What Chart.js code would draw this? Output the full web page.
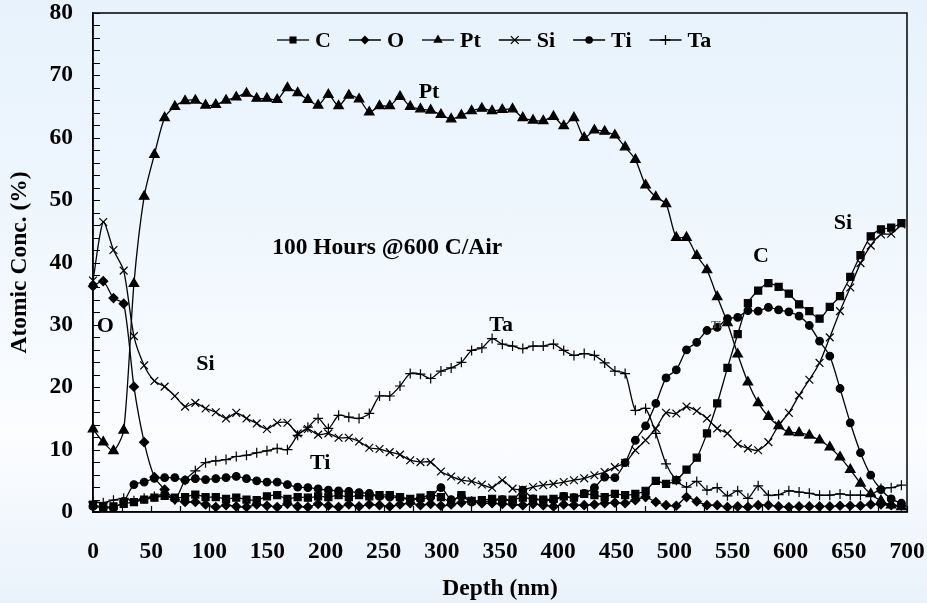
<!DOCTYPE html>
<html>
<head>
<meta charset="utf-8">
<title>Depth profile</title>
<script src="https://cdn.jsdelivr.net/npm/chart.js@4.4.1/dist/chart.umd.min.js"></script>
<style>
  html, body { margin: 0; padding: 0; }
  body {
    width: 927px; height: 603px; overflow: hidden;
    background: linear-gradient(to bottom, #e7f2fc 0%, #f1f8fe 45%, #fcfdff 72%, #e9f2fb 100%);
  }
  #wrap { position: relative; width: 927px; height: 603px; }
</style>
</head>
<body>
<div id="wrap"><canvas id="chart"></canvas></div>
<script>
// Depth (nm) of each measurement
const depth = [0, 8.8, 17.6, 26.4, 35.2, 44, 52.8, 61.6, 70.4, 79.2,
  88, 96.8, 105.6, 114.4, 123.2, 132, 140.8, 149.6, 158.4, 167.2,
  176, 184.8, 193.6, 202.4, 211.2, 220, 228.8, 237.6, 246.4, 255.2,
  264, 272.8, 281.6, 290.4, 299.2, 308, 316.8, 325.6, 334.4, 343.2,
  352, 360.8, 369.6, 378.4, 387.2, 396, 404.8, 413.6, 422.4, 431.2,
  440, 448.8, 457.6, 466.4, 475.2, 484, 492.8, 501.6, 510.4, 519.2,
  528, 536.8, 545.6, 554.4, 563.2, 572, 580.8, 589.6, 598.4, 607.2,
  616, 624.8, 633.6, 642.4, 651.2, 660, 668.8, 677.6, 686.4, 695.2];

// Atomic concentration (%) per element
const carbon = [1.2, 0.8, 0.9, 1.3, 1.6, 2.0, 2.3, 2.6, 2.3, 2.4,
  2.8, 2.4, 2.4, 2.1, 2.3, 2.0, 1.9, 2.5, 2.7, 2.1,
  2.4, 2.3, 2.5, 2.4, 2.7, 2.4, 2.7, 2.5, 2.7, 2.7,
  2.4, 2.1, 2.3, 2.7, 2.4, 1.6, 2.7, 1.8, 1.9, 2.1,
  2.0, 2.0, 2.3, 2.1, 2.0, 2.1, 2.5, 2.3, 2.9, 2.7,
  2.4, 2.9, 2.7, 2.9, 3.4, 5.0, 4.5, 5.1, 6.8, 8.7,
  12.6, 17.4, 23.1, 28.5, 33.5, 35.5, 36.7, 36.1, 35.0, 33.3,
  32.2, 31.0, 32.9, 34.6, 37.7, 41.2, 44.2, 45.3, 45.6, 46.3];

const oxygen = [36.2, 37.0, 34.3, 33.4, 20.1, 11.2, 5.6, 3.6, 2.0, 1.6,
  1.6, 1.2, 0.8, 1.1, 0.9, 0.8, 1.2, 1.0, 0.8, 1.3,
  0.9, 0.8, 1.3, 1.0, 0.8, 1.2, 0.9, 1.2, 1.1, 0.9,
  1.2, 1.4, 1.1, 1.3, 1.0, 1.2, 1.5, 1.7, 1.4, 1.4,
  1.3, 1.2, 1.1, 1.3, 1.1, 0.9, 1.2, 1.1, 1.1, 1.2,
  1.4, 1.5, 1.4, 1.9, 2.4, 1.6, 1.1, 1.0, 2.4, 1.7,
  1.1, 1.1, 0.8, 0.9, 0.8, 1.1, 1.1, 0.9, 0.8, 0.9,
  0.9, 0.9, 0.9, 1.0, 1.0, 1.0, 1.2, 1.2, 1.1, 1.0];

const platinum = [13.3, 11.2, 9.8, 13.1, 36.6, 50.6, 57.3, 63.2, 65.0, 65.9,
  66.0, 65.2, 65.3, 66.0, 66.5, 67.1, 66.3, 66.3, 66.1, 68.0,
  67.2, 66.1, 65.2, 66.9, 65.1, 66.8, 66.2, 64.1, 65.1, 65.1,
  66.6, 65.0, 64.6, 64.4, 63.7, 63.0, 63.6, 64.3, 64.7, 64.3,
  64.5, 64.6, 63.2, 62.8, 62.7, 63.4, 61.9, 63.2, 60.0, 61.2,
  61.0, 60.4, 58.5, 56.5, 52.4, 50.5, 49.4, 44.0, 44.0, 41.1,
  38.8, 34.5, 30.3, 25.3, 20.8, 17.5, 15.3, 13.8, 12.8, 12.7,
  12.3, 11.5, 10.4, 8.8, 6.8, 4.6, 2.9, 1.8, 1.1, 0.8];

const silicon = [37.1, 46.5, 42.0, 38.7, 28.2, 23.5, 21.0, 20.1, 18.6, 16.9,
  17.5, 16.6, 16.0, 15.0, 15.9, 15.0, 14.2, 13.3, 14.3, 14.3,
  12.6, 13.3, 12.4, 12.6, 11.9, 11.9, 11.3, 10.3, 10.1, 9.6,
  9.2, 8.3, 8.0, 8.0, 6.5, 5.7, 5.1, 4.9, 4.4, 3.9,
  5.1, 3.75, 3.6, 4.0, 4.3, 4.5, 4.8, 5.1, 5.4, 5.9,
  6.4, 7.2, 7.9, 9.9, 11.5, 13.4, 15.9, 15.8, 16.9, 16.2,
  15.0, 13.4, 12.6, 10.9, 10.2, 9.9, 11.2, 13.9, 15.9, 18.7,
  21.2, 23.9, 28.0, 32.2, 36.0, 39.9, 42.7, 44.5, 44.6, 46.1];

const titanium = [0.9, 0.7, 0.7, 1.7, 4.4, 4.8, 5.4, 5.5, 5.5, 5.1,
  5.35, 5.2, 5.35, 5.5, 5.7, 5.35, 5.0, 4.8, 4.8, 4.4,
  4.0, 3.9, 3.7, 3.5, 3.4, 3.3, 3.1, 3.0, 2.5, 2.4,
  2.3, 2.0, 2.1, 2.4, 3.9, 2.0, 2.5, 1.6, 1.6, 1.8,
  2.0, 1.8, 3.5, 2.1, 1.9, 1.9, 2.5, 2.3, 3.0, 3.9,
  5.6, 5.5, 7.9, 11.5, 13.8, 17.4, 21.5, 22.8, 26.0, 27.2,
  29.1, 29.6, 31.0, 31.2, 32.3, 32.2, 32.8, 32.4, 32.1, 31.4,
  29.9, 27.4, 25.0, 19.8, 14.3, 9.5, 5.9, 3.6, 2.1, 1.4];

const tantalum = [1.6, 1.5, 1.9, 2.2, 1.8, 2.2, 2.5, 2.8, 2.0, 5.1,
  6.6, 7.9, 8.2, 8.4, 8.9, 9.1, 9.5, 9.8, 10.2, 10.0,
  12.3, 13.6, 15.0, 13.4, 15.5, 15.2, 15.0, 15.8, 18.6, 18.6,
  20.2, 22.2, 22.1, 21.4, 22.6, 23.1, 24.0, 25.9, 26.3, 27.8,
  26.9, 26.6, 26.2, 26.6, 26.6, 26.9, 25.9, 25.1, 25.4, 25.1,
  23.9, 22.6, 22.2, 16.3, 16.6, 12.6, 7.7, 5.1, 4.0, 4.9,
  3.5, 3.9, 2.6, 3.4, 2.2, 4.2, 2.7, 2.8, 3.4, 3.2,
  3.0, 2.7, 2.7, 2.9, 2.7, 2.7, 2.7, 3.75, 3.9, 4.3];

const seriesNames = ['C', 'O', 'Pt', 'Si', 'Ti', 'Ta'];
const seriesValues = [carbon, oxygen, platinum, silicon, titanium, tantalum];
const markerStyles = ['rect', 'rectRot', 'triangle', 'crossRot', 'circle', 'cross'];
const markerSizes = [5, 4.5, 5.5, 5.5, 3.8, 5];

// Text notes placed in data units (depth, %)
const notes = [
  { text: 'Pt', x: 289, y: 67.3, size: 22 },
  { text: '100 Hours @600 C/Air', x: 253, y: 42.3, size: 23.5 },
  { text: 'O', x: 10.6, y: 29.8, size: 22 },
  { text: 'Si', x: 96.6, y: 23.7, size: 22 },
  { text: 'Ti', x: 195.4, y: 7.8, size: 22 },
  { text: 'Ta', x: 351, y: 30.0, size: 22 },
  { text: 'C', x: 574.4, y: 41.0, size: 22 },
  { text: 'Si', x: 645, y: 46.3, size: 22 },
  { text: 'Ti', x: 536, y: 29.9, size: 11, color: '#444' }
];

const FONT = "'Liberation Serif', 'Times New Roman', serif";

// draw one marker shape (used for the legend)
function drawMarker(ctx, style, x, y, r) {
    ctx.beginPath();
    if (style === 'rect') {
        const s = r * Math.SQRT1_2;
        ctx.rect(x - s, y - s, 2 * s, 2 * s);
        ctx.fill();
    } else if (style === 'rectRot') {
        ctx.moveTo(x, y - r); ctx.lineTo(x + r, y); ctx.lineTo(x, y + r); ctx.lineTo(x - r, y);
        ctx.closePath(); ctx.fill();
    } else if (style === 'triangle') {
        ctx.moveTo(x, y - r);
        ctx.lineTo(x + r * 0.866, y + r / 2);
        ctx.lineTo(x - r * 0.866, y + r / 2);
        ctx.closePath(); ctx.fill();
    } else if (style === 'circle') {
        ctx.arc(x, y, r, 0, Math.PI * 2);
        ctx.fill();
    } else if (style === 'crossRot') {
        const s = r * Math.SQRT1_2;
        ctx.moveTo(x - s, y - s); ctx.lineTo(x + s, y + s);
        ctx.moveTo(x + s, y - s); ctx.lineTo(x - s, y + s);
        ctx.stroke();
    } else if (style === 'cross') {
        ctx.moveTo(x - r, y); ctx.lineTo(x + r, y);
        ctx.moveTo(x, y - r); ctx.lineTo(x, y + r);
        ctx.stroke();
    }
}

const decorPlugin = {
    id: 'decor',
    afterDraw(chart) {
        const ctx = chart.ctx;
        const area = chart.chartArea;
        const xs = chart.scales.x;
        const ys = chart.scales.y;
        ctx.save();
        ctx.strokeStyle = '#000';
        ctx.fillStyle = '#000';

        // inner tick marks
        ctx.lineWidth = 1.2;
        ctx.beginPath();
        for (let v = 0; v <= 80; v += 2) {
            const py = Math.round(ys.getPixelForValue(v)) + 0.5;
            ctx.moveTo(area.left, py);
            ctx.lineTo(area.left + 7, py);
        }
        for (let v = 0; v <= 700; v += 25) {
            const px = Math.round(xs.getPixelForValue(v)) + 0.5;
            ctx.moveTo(px, area.bottom);
            ctx.lineTo(px, area.bottom - 6);
        }
        ctx.stroke();

        // box round the plot
        ctx.lineWidth = 1.5;
        ctx.strokeRect(area.left, area.top, area.right - area.left, area.bottom - area.top);

        // legend: line with marker, then name
        ctx.font = 'bold 22px ' + FONT;
        ctx.textBaseline = 'middle';
        ctx.textAlign = 'left';
        let lx = area.left + 184;
        const ly = area.top + 27;
        seriesNames.forEach((name, i) => {
            ctx.lineWidth = 1.3;
            ctx.beginPath();
            ctx.moveTo(lx, ly);
            ctx.lineTo(lx + 32, ly);
            ctx.stroke();
            drawMarker(ctx, markerStyles[i], lx + 16, ly, markerSizes[i]);
            ctx.fillText(name, lx + 38, ly + 1);
            lx += 38 + ctx.measureText(name).width + 18;
        });

        // notes on the chart
        notes.forEach(n => {
            ctx.font = 'bold ' + n.size + 'px ' + FONT;
            ctx.fillStyle = n.color || '#000';
            ctx.textAlign = 'center';
            ctx.fillText(n.text, xs.getPixelForValue(n.x), ys.getPixelForValue(n.y));
        });
        ctx.restore();
    }
};

const datasets = seriesNames.map((name, i) => ({
    label: name,
    data: depth.map((d, k) => ({ x: d, y: seriesValues[i][k] })),
    borderColor: '#000',
    backgroundColor: '#000',
    borderWidth: 1.3,
    pointStyle: markerStyles[i],
    pointRadius: markerSizes[i],
    pointBorderWidth: 1.2,
    pointBackgroundColor: '#000',
    pointBorderColor: '#000',
    tension: 0.25,
    clip: false
}));

const axisFont = { family: FONT, size: 23.5, weight: 'bold' };

new Chart(document.getElementById('chart'), {
    type: 'line',
    data: { datasets: datasets },
    options: {
        responsive: true,
        maintainAspectRatio: false,
        animation: false,
        layout: { padding: { left: 0, right: 20, top: 0, bottom: 0 } },
        plugins: {
            legend: { display: false },
            tooltip: { enabled: false }
        },
        scales: {
            x: {
                type: 'linear',
                min: 0,
                max: 700,
                ticks: { stepSize: 50, font: axisFont, color: '#000', padding: 26, maxRotation: 0 },
                grid: { drawOnChartArea: false, drawTicks: false },
                border: { color: '#000', width: 1.5 },
                title: { display: true, text: 'Depth (nm)', font: axisFont, color: '#000', padding: { top: 0, bottom: 0 } },
                afterFit(scale) {
                    scale.height = 91;
                    scale.paddingLeft = 0;
                    scale.paddingRight = 0;
                }
            },
            y: {
                min: 0,
                max: 80,
                ticks: { stepSize: 10, font: axisFont, color: '#000', padding: 20 },
                grid: { drawOnChartArea: false, drawTicks: false },
                border: { color: '#000', width: 1.5 },
                title: { display: true, text: 'Atomic Conc. (%)', font: axisFont, color: '#000', padding: { top: 6, bottom: 0 } },
                afterFit(scale) {
                    scale.width = 93;
                    scale.paddingTop = 13;
                    scale.paddingBottom = 0;
                }
            }
        }
    },
    plugins: [decorPlugin]
});
</script>
</body>
</html>
